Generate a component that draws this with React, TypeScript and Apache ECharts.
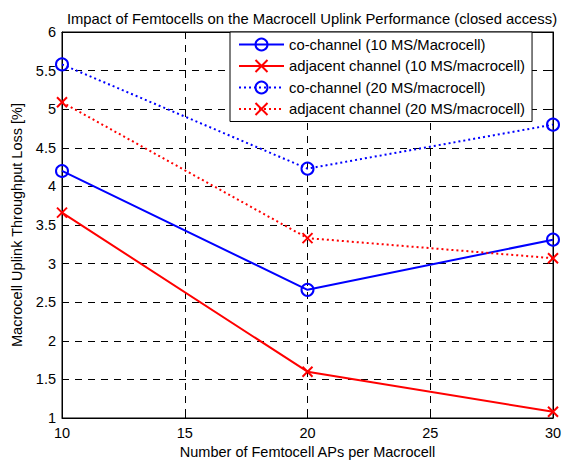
import React, { useEffect, useRef } from "react";
import * as echarts from "echarts";

const titleText = "Impact of Femtocells on the Macrocell Uplink Performance (closed access)";
const xName = "Number of Femtocell APs per Macrocell";
const yName = "Macrocell Uplink Throughput Loss [%]";
const femtoAPs = [10, 20, 30];
const coChannel10 = [4.2, 2.66, 3.31];
const adjChannel10 = [3.66, 1.6, 1.08];
const coChannel20 = [5.58, 4.23, 4.8];
const adjChannel20 = [5.09, 3.33, 3.07];
const seriesNames = [
  "co-channel (10 MS/Macrocell)",
  "adjacent channel (10 MS/macrocell)",
  "co-channel (20 MS/macrocell)",
  "adjacent channel (20 MS/macrocell)",
];

const FONT = "Liberation Sans, Arial, sans-serif";
const CROSS = "path://M0,0L10,10M10,0L0,10";
const FS = 14.5;
const FS_BIG = 14.8;

export default function App() {
  const ref = useRef<HTMLDivElement>(null);
  useEffect(() => {
    if (!ref.current) return;
    const chart = echarts.init(ref.current, undefined, { renderer: "svg" });
    const mk = (name: string, vals: number[], color: string, type: string, sym: string) => ({
      name,
      type: "line",
      data: femtoAPs.map((x, i) => [x, vals[i]]),
      symbol: sym === "o" ? "circle" : CROSS,
      symbolSize: sym === "o" ? 12 : 10,
      showAllSymbol: true,
      lineStyle: { color, width: 2, type: type === "dot" ? [2, 3] : "solid" },
      itemStyle: { color: sym === "o" ? "rgba(255,255,255,0)" : color, borderColor: color, borderWidth: 2 },
      emphasis: { disabled: true },
      z: 5,
    });
    const gridLine = { show: true, lineStyle: { color: "#000", type: [7, 6], width: 1 } };
    chart.setOption({
      animation: false,
      backgroundColor: "#fff",
      textStyle: { fontFamily: FONT },
      title: {
        text: titleText,
        left: 307,
        textAlign: "center",
        top: 6,
        textStyle: { fontFamily: FONT, fontSize: FS_BIG, fontWeight: "normal", color: "#000" },
      },
      legend: {
        left: 230,
        top: 32,
        orient: "vertical",
        data: seriesNames,
        backgroundColor: "#fff",
        borderColor: "#000",
        borderWidth: 1,
        borderRadius: 0,
        padding: [5, 7, 5, 8],
        itemGap: 6.5,
        itemWidth: 45,
        itemHeight: 15,
        itemStyle: { color: "inherit" },
        selectedMode: false,
        textStyle: { fontFamily: FONT, fontSize: FS_BIG, color: "#000" },
        z: 10,
      },
      grid: {
        left: 62,
        right: 16,
        top: 32,
        bottom: 42,
        show: true,
        borderColor: "#000",
        borderWidth: 1,
        containLabel: false,
        outerBoundsMode: "none",
      },
      xAxis: [
        {
          type: "value",
          min: 10,
          max: 30,
          interval: 5,
          name: xName,
          nameLocation: "middle",
          nameGap: 21,
          nameTextStyle: { fontFamily: FONT, fontSize: FS, color: "#000" },
          axisLine: { show: true, lineStyle: { color: "#000" } },
          axisTick: { show: true, inside: true, length: 5, lineStyle: { color: "#000" } },
          axisLabel: { fontFamily: FONT, fontSize: FS, color: "#000", margin: 7 },
          splitLine: gridLine,
        },
        {
          type: "value",
          position: "top",
          min: 10,
          max: 30,
          interval: 5,
          axisLine: { show: true, lineStyle: { color: "#000" } },
          axisTick: { show: true, inside: true, length: 5, lineStyle: { color: "#000" } },
          axisLabel: { show: false },
          splitLine: { show: false },
        },
      ],
      yAxis: [
        {
          type: "value",
          min: 1,
          max: 6,
          interval: 0.5,
          name: yName,
          nameLocation: "middle",
          nameGap: 38,
          nameTextStyle: { fontFamily: FONT, fontSize: FS, color: "#000" },
          axisLine: { show: true, lineStyle: { color: "#000" } },
          axisTick: { show: true, inside: true, length: 5, lineStyle: { color: "#000" } },
          axisLabel: { fontFamily: FONT, fontSize: FS, color: "#000", margin: 6 },
          splitLine: gridLine,
        },
        {
          type: "value",
          position: "right",
          min: 1,
          max: 6,
          interval: 0.5,
          axisLine: { show: true, lineStyle: { color: "#000" } },
          axisTick: { show: true, inside: true, length: 5, lineStyle: { color: "#000" } },
          axisLabel: { show: false },
          splitLine: { show: false },
        },
      ],
      series: [
        mk(seriesNames[0], coChannel10, "#0000ff", "solid", "o"),
        mk(seriesNames[1], adjChannel10, "#ff0000", "solid", "x"),
        mk(seriesNames[2], coChannel20, "#0000ff", "dot", "o"),
        mk(seriesNames[3], adjChannel20, "#ff0000", "dot", "x"),
      ],
    });
    return () => chart.dispose();
  }, []);
  return <div ref={ref} style={{ width: 569, height: 460, position: "absolute", left: 0, top: 0 }} />;
}
